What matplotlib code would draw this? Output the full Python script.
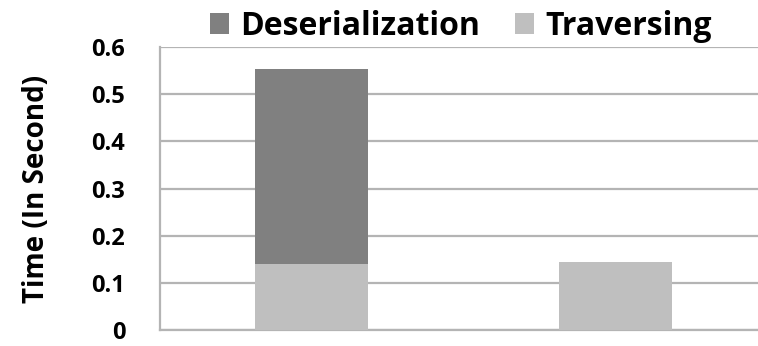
import matplotlib
matplotlib.use("Agg")
import matplotlib.pyplot as plt
import numpy as np

categories = ["A", "B"]
traversing = [0.140, 0.145]
deserialization = [0.413, 0.0]
series_names = ["Deserialization", "Traversing"]
yticks = [0, 0.1, 0.2, 0.3, 0.4, 0.5, 0.6]
ylabel = "Time (In Second)"

plt.rcParams["font.family"] = ["Open Sans", "DejaVu Sans"]
plt.rcParams["font.weight"] = "bold"

fig = plt.figure(figsize=(7.58, 3.46), dpi=100)
ax = fig.add_axes([0.211, 0.046, 0.801, 0.818])

x = np.arange(len(categories))
w = 0.373
b_trav = ax.bar(x, traversing, w, color="#bfbfbf", zorder=3, label=series_names[1])
b_des = ax.bar(x, deserialization, w, bottom=traversing, color="#808080", zorder=3,
               label=series_names[0])

ax.set_xlim(-0.5, 1.5)
ax.set_ylim(0, 0.6)
ax.set_yticks(yticks)
ax.set_yticklabels([f"{t:g}" for t in yticks], fontsize=17, fontweight="bold",
                   va="center_baseline")
ax.set_xticks([])
ax.yaxis.grid(True, color="#b4b4b4", linewidth=1.6, zorder=0)
ax.tick_params(axis="y", length=0, pad=25)
for s in ["top", "right"]:
    ax.spines[s].set_visible(False)
for s in ["left", "bottom"]:
    ax.spines[s].set_color("#b4b4b4")
    ax.spines[s].set_linewidth(1.6)
ax.set_ylabel(ylabel, fontsize=20, fontweight="bold")
ax.yaxis.set_label_coords(-0.18, 0.5)

leg = fig.legend(handles=[b_des, b_trav], labels=series_names, loc="upper center",
                 bbox_to_anchor=(0.608, 1.055), ncol=2, frameon=False,
                 prop={"size": 23, "weight": "bold"}, handlelength=0.6,
                 handleheight=0.6, handletextpad=0.35, columnspacing=1.1)

fig.savefig("out.png", dpi=100)
